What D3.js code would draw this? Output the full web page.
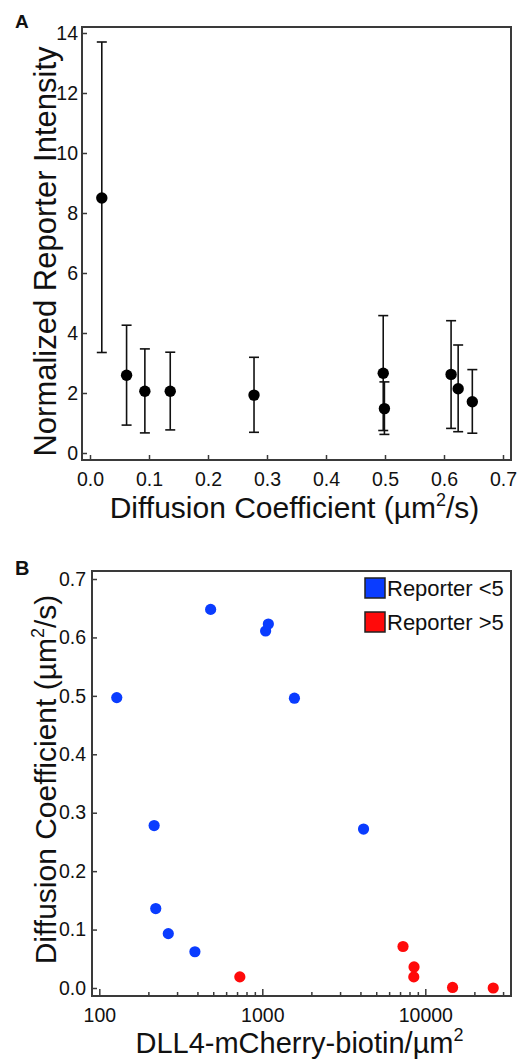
<!DOCTYPE html>
<html>
<head>
<meta charset="utf-8">
<title></title>
<style>
  body { margin: 0; background: #fff; }
  svg text { font-family: Arial, "Liberation Sans", sans-serif; fill: #111; }
</style>
<script src="https://d3js.org/d3.v7.min.js"></script>
</head>
<body>
<svg id="fig" width="530" height="1059"></svg>
<script>
// Panel A: diffusion coefficient vs normalized reporter intensity (mean, low, high)
const diffA = [0.020, 0.062, 0.093, 0.136, 0.278, 0.497, 0.499, 0.612, 0.624, 0.648]
const reporterMean = [8.50, 2.59, 2.06, 2.06, 1.93, 2.66, 1.48, 2.62, 2.14, 1.71]
const reporterLow = [3.35, 0.93, 0.67, 0.77, 0.69, 0.75, 0.62, 0.82, 0.71, 0.66]
const reporterHigh = [13.70, 4.26, 3.47, 3.36, 3.19, 4.58, 2.37, 4.41, 3.60, 2.78]
const ticksAx = [0, 0.1, 0.2, 0.3, 0.4, 0.5, 0.6, 0.7]
const ticksAy = [0, 2, 4, 6, 8, 10, 12, 14]

// Panel B: ligand density vs diffusion coefficient
const densityLow = [128, 482, 1048, 1089, 1574, 217, 222, 265, 386, 4180]
const diffLow = [0.497, 0.648, 0.611, 0.623, 0.496, 0.278, 0.136, 0.093, 0.062, 0.272]
const densityHigh = [728, 7300, 8530, 8500, 14700, 26100]
const diffHigh = [0.019, 0.071, 0.036, 0.019, 0.001, 0.000]
const ticksBx = [100, 1000, 10000]
const ticksBy = [0, 0.1, 0.2, 0.3, 0.4, 0.5, 0.6, 0.7]
const legendLabels = ["Reporter <5", "Reporter >5"]
const colors = ["#0a3cff", "#ff0a0a"]

const svg = d3.select("#fig")
const frameColor = "#3a3a3a"

// ---------- Panel A ----------
const fa = {left: 82, right: 511, top: 27, bottom: 460}
const xA = d3.scaleLinear().domain([0, 0.7]).range([90, 503])
const yA = d3.scaleLinear().domain([0, 14]).range([453, 33])

const gA = svg.append("g")

gA.append("g")
  .attr("transform", `translate(0,${fa.bottom})`)
  .call(d3.axisBottom(xA).tickValues(ticksAx).tickFormat(d3.format(".1f"))
    .tickSizeInner(-5).tickSizeOuter(0).tickPadding(12))
  .call(g => g.select(".domain").remove())
  .call(g => g.selectAll("line").attr("stroke", frameColor).attr("stroke-width", 1.5))
  .call(g => g.selectAll("text").attr("font-size", 19.5).attr("dy", "0.71em"))

gA.append("g")
  .attr("transform", `translate(${fa.left},0)`)
  .call(d3.axisLeft(yA).tickValues(ticksAy).tickFormat(d3.format("d"))
    .tickSizeInner(-5).tickSizeOuter(0).tickPadding(4))
  .call(g => g.select(".domain").remove())
  .call(g => g.selectAll("line").attr("stroke", frameColor).attr("stroke-width", 1.5))
  .call(g => g.selectAll("text").attr("font-size", 19.5))

gA.append("rect")
  .attr("x", fa.left).attr("y", fa.top)
  .attr("width", fa.right - fa.left).attr("height", fa.bottom - fa.top)
  .attr("fill", "none").attr("stroke", frameColor).attr("stroke-width", 2)

// error bars
const bars = gA.append("g").attr("stroke", "#111").attr("stroke-width", 1.6)
diffA.forEach((d, i) => {
  const x = xA(d)
  bars.append("line").attr("x1", x).attr("x2", x)
    .attr("y1", yA(reporterLow[i])).attr("y2", yA(reporterHigh[i]))
  ;[reporterLow[i], reporterHigh[i]].forEach(v => {
    bars.append("line").attr("x1", x - 5).attr("x2", x + 5)
      .attr("y1", yA(v)).attr("y2", yA(v))
  })
})

gA.append("g").selectAll("circle")
  .data(diffA)
  .join("circle")
  .attr("cx", d => xA(d))
  .attr("cy", (d, i) => yA(reporterMean[i]))
  .attr("r", 5.7)
  .attr("fill", "#000")

gA.append("text")
  .attr("x", (fa.left + fa.right) / 2 - 2).attr("y", 518)
  .attr("text-anchor", "middle").attr("font-size", 30)
  .call(t => {
    t.append("tspan").text("Diffusion Coefficient (µm")
    t.append("tspan").text("2").attr("font-size", 18).attr("dy", -12)
    t.append("tspan").text("/s)").attr("dy", 12)
  })

gA.append("text")
  .attr("transform", `translate(56,${(fa.top + fa.bottom) / 2 + 8}) rotate(-90)`)
  .attr("text-anchor", "middle").attr("font-size", 31)
  .text("Normalized Reporter Intensity")

svg.append("text").attr("x", 15).attr("y", 28)
  .attr("font-size", 19).attr("font-weight", "bold").text("A")

// ---------- Panel B ----------
const fb = {left: 92, right: 511, top: 571, bottom: 996}
const xB = d3.scaleLog().domain([100, 10000]).range([99.3, 425.3])
const yB = d3.scaleLinear().domain([0, 0.7]).range([988, 579])

const gB = svg.append("g")

const minorB = []
for (let dec = 100; dec <= 10000; dec *= 10) {
  for (let k = 2; k <= 9; k++) {
    const v = dec * k
    if (xB(v) < fb.right - 3) minorB.push(v)
  }
}

gB.append("g")
  .attr("transform", `translate(0,${fb.bottom})`)
  .call(d3.axisBottom(xB).tickValues(minorB).tickFormat("")
    .tickSizeInner(-4).tickSizeOuter(0))
  .call(g => g.select(".domain").remove())
  .call(g => g.selectAll("text").remove())
  .call(g => g.selectAll("line").attr("stroke", frameColor).attr("stroke-width", 1.5))

gB.append("g")
  .attr("transform", `translate(0,${fb.bottom})`)
  .call(d3.axisBottom(xB).tickValues(ticksBx).tickFormat(d3.format("d"))
    .tickSizeInner(-7).tickSizeOuter(0).tickPadding(12))
  .call(g => g.select(".domain").remove())
  .call(g => g.selectAll("line").attr("stroke", frameColor).attr("stroke-width", 1.5))
  .call(g => g.selectAll("text").attr("font-size", 19.5).attr("dy", "0.71em"))

gB.append("g")
  .attr("transform", `translate(${fb.left},0)`)
  .call(d3.axisLeft(yB).tickValues(ticksBy).tickFormat(d3.format(".1f"))
    .tickSizeInner(-5).tickSizeOuter(0).tickPadding(6))
  .call(g => g.select(".domain").remove())
  .call(g => g.selectAll("line").attr("stroke", frameColor).attr("stroke-width", 1.5))
  .call(g => g.selectAll("text").attr("font-size", 19.5))

gB.append("rect")
  .attr("x", fb.left).attr("y", fb.top)
  .attr("width", fb.right - fb.left).attr("height", fb.bottom - fb.top)
  .attr("fill", "none").attr("stroke", frameColor).attr("stroke-width", 2)

gB.append("g").selectAll("circle")
  .data(densityLow)
  .join("circle")
  .attr("cx", d => xB(d))
  .attr("cy", (d, i) => yB(diffLow[i]))
  .attr("r", 5.6)
  .attr("fill", colors[0])

gB.append("g").selectAll("circle")
  .data(densityHigh)
  .join("circle")
  .attr("cx", d => xB(d))
  .attr("cy", (d, i) => yB(diffHigh[i]))
  .attr("r", 5.6)
  .attr("fill", colors[1])

// legend
const leg = gB.append("g").attr("transform", "translate(365,578)")
legendLabels.forEach((lab, i) => {
  const row = leg.append("g").attr("transform", `translate(0,${i * 34})`)
  row.append("rect").attr("width", 20).attr("height", 20)
    .attr("fill", colors[i]).attr("stroke", "#222").attr("stroke-width", 1.5)
  row.append("text").attr("x", 22).attr("y", 18)
    .attr("font-size", 22).text(lab)
})

gB.append("text")
  .attr("x", (fb.left + fb.right) / 2 - 2).attr("y", 1053)
  .attr("text-anchor", "middle").attr("font-size", 29)
  .call(t => {
    t.append("tspan").text("DLL4-mCherry-biotin/µm")
    t.append("tspan").text("2").attr("font-size", 18).attr("dy", -12)
  })

gB.append("text")
  .attr("transform", `translate(56,${(fb.top + fb.bottom) / 2 - 4}) rotate(-90)`)
  .attr("text-anchor", "middle").attr("font-size", 30)
  .call(t => {
    t.append("tspan").text("Diffusion Coefficient (µm")
    t.append("tspan").text("2").attr("font-size", 18).attr("dy", -12)
    t.append("tspan").text("/s)").attr("dy", 12)
  })

svg.append("text").attr("x", 15).attr("y", 575)
  .attr("font-size", 20).attr("font-weight", "bold").text("B")
</script>
</body>
</html>
